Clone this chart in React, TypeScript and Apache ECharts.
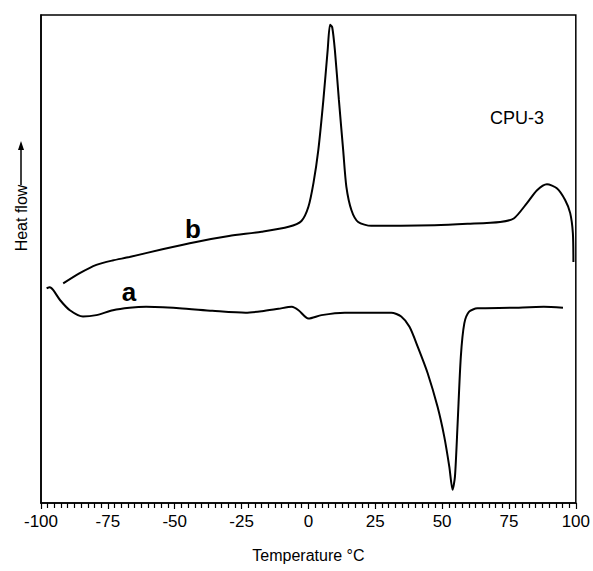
import React, { useEffect, useRef } from "react";
import * as echarts from "echarts";

// Temperature (°C) / normalized heat flow (arbitrary units, 0-100 across the plot height)
const curveBTemp = [-91.7, -85.5, -79.3, -73.2, -66.9, -54.6, -42.0, -29.7, -17.5, -7.4, -2.6, 0.0, 1.9, 3.7, 5.6, 7.2, 8.1, 8.9, 9.9, 11.4, 13.0, 14.2, 16.1, 18.6, 23.5, 34.6, 47.2, 59.5, 71.7, 76.8, 81.8, 85.5, 89.2, 92.9, 96.0, 97.9, 98.9, 99.1];
const curveBFlow = [45.0, 47.1, 48.8, 49.7, 50.4, 52.0, 53.5, 54.7, 55.6, 56.6, 57.8, 60.7, 65.6, 72.3, 82.6, 92.8, 98.0, 97.5, 92.8, 82.6, 72.3, 64.8, 60.0, 57.6, 56.8, 56.8, 56.9, 57.2, 57.6, 58.3, 61.5, 64.1, 65.3, 64.5, 62.1, 59.4, 55.3, 49.4];

const curveATemp = [-97.9, -96.7, -95.4, -92.9, -89.2, -84.3, -79.3, -73.1, -66.9, -60.7, -48.3, -35.9, -23.5, -17.4, -11.2, -6.2, -3.7, 0.0, 4.9, 13.6, 31.0, 34.7, 37.8, 40.9, 44.6, 48.3, 50.8, 52.7, 53.9, 54.8, 55.8, 57.0, 58.3, 60.1, 63.2, 75.6, 88.0, 95.2];
const curveAFlow = [44.0, 44.2, 43.6, 41.6, 39.5, 38.2, 38.5, 39.5, 40.0, 40.2, 39.9, 39.4, 39.0, 39.3, 39.8, 40.2, 39.5, 37.8, 38.5, 39.0, 39.0, 38.2, 36.1, 32.0, 26.6, 19.7, 13.6, 7.4, 2.7, 5.4, 16.3, 30.0, 36.8, 39.2, 39.9, 40.0, 40.2, 40.0];

const xTicks = { min: -100, max: 100, interval: 25 };
const xTitle = "Temperature °C";
const yTitle = "Heat flow";
const sampleName = "CPU-3";
const curveLabels = ["a", "b"];

const FONT = "'Liberation Sans', Arial, Helvetica, sans-serif";

function zip(xs: number[], ys: number[]) {
  return xs.map((x, i) => [x, ys[i]]);
}

export default function App() {
  const ref = useRef<HTMLDivElement>(null);
  useEffect(() => {
    if (!ref.current) return;
    const chart = echarts.init(ref.current, null, { renderer: "svg" });
    chart.setOption({
      animation: false,
      backgroundColor: "#ffffff",
      grid: {
        left: 41,
        right: 14,
        top: 15,
        bottom: 68,
        show: true,
        borderColor: "#000",
        borderWidth: 1.5,
        backgroundColor: "transparent",
      },
      xAxis: {
        type: "value",
        min: xTicks.min,
        max: xTicks.max,
        interval: xTicks.interval,
        name: xTitle,
        nameLocation: "middle",
        nameGap: 44,
        nameTextStyle: { fontFamily: FONT, fontSize: 16, color: "#000" },
        axisLine: { show: true, onZero: false, lineStyle: { color: "#000", width: 1.5 } },
        axisTick: { show: true, inside: false, length: 6, lineStyle: { color: "#000", width: 1.2 } },
        minorTick: { show: true, splitNumber: 10, length: 5, lineStyle: { color: "#000", width: 1.2 } },
        axisLabel: { fontFamily: FONT, fontSize: 17, color: "#000", margin: 10 },
        splitLine: { show: false },
        minorSplitLine: { show: false },
      },
      yAxis: {
        type: "value",
        min: 0,
        max: 100,
        axisLine: { show: true, onZero: false, lineStyle: { color: "#000", width: 1.5 } },
        axisTick: { show: false },
        axisLabel: { show: false },
        splitLine: { show: false },
      },
      series: [
        {
          type: "line",
          name: "a",
          data: zip(curveATemp, curveAFlow),
          showSymbol: false,
          smooth: 0.25,
          lineStyle: { color: "#000", width: 2 },
        },
        {
          type: "line",
          name: "b",
          data: zip(curveBTemp, curveBFlow),
          showSymbol: false,
          smooth: 0.25,
          lineStyle: { color: "#000", width: 2 },
        },
      ],
      graphic: [
        {
          type: "text",
          x: 21,
          y: 218,
          rotation: Math.PI / 2,
          style: {
            text: yTitle,
            fontFamily: FONT,
            fontSize: 16,
            fill: "#000",
            align: "center",
            verticalAlign: "middle",
          },
        },
        {
          type: "line",
          shape: { x1: 21, y1: 185, x2: 21, y2: 146 },
          style: { stroke: "#000", lineWidth: 1.5 },
        },
        {
          type: "polygon",
          shape: { points: [[18, 150], [24, 150], [21, 141]] },
          style: { fill: "#000" },
        },
        {
          type: "text",
          x: 517,
          y: 118,
          style: {
            text: sampleName,
            fontFamily: FONT,
            fontSize: 18,
            fill: "#000",
            align: "center",
            verticalAlign: "middle",
          },
        },
        {
          type: "text",
          x: 129,
          y: 292,
          style: {
            text: curveLabels[0],
            fontFamily: FONT,
            fontSize: 26,
            fontWeight: "bold",
            fill: "#000",
            align: "center",
            verticalAlign: "middle",
          },
        },
        {
          type: "text",
          x: 193,
          y: 229,
          style: {
            text: curveLabels[1],
            fontFamily: FONT,
            fontSize: 26,
            fontWeight: "bold",
            fill: "#000",
            align: "center",
            verticalAlign: "middle",
          },
        },
      ],
    });
    return () => chart.dispose();
  }, []);
  return (
    <div
      ref={ref}
      style={{ position: "fixed", left: 0, top: 0, width: 593, height: 571, background: "#fff" }}
    />
  );
}
